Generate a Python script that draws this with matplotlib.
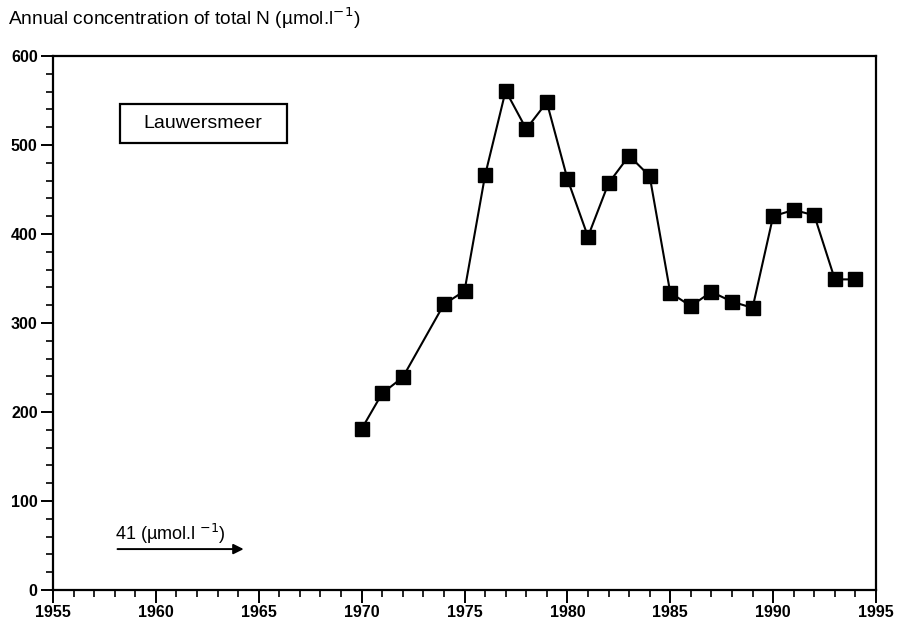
import numpy as np
import matplotlib
matplotlib.use("Agg")
import matplotlib.pyplot as plt
from matplotlib.ticker import MultipleLocator
from matplotlib.patches import Rectangle

# yearly total N concentration, Lauwersmeer (1973 missing)
years = [1970, 1971, 1972, 1974, 1975, 1976, 1977, 1978, 1979, 1980,
         1981, 1982, 1983, 1984, 1985, 1986, 1987, 1988, 1989, 1990,
         1991, 1992, 1993, 1994]
total_n = [181, 221, 239, 321, 336, 466, 561, 518, 548, 462,
           397, 457, 488, 465, 334, 319, 335, 324, 317, 420,
           427, 421, 349, 349]
x_ticks = [1955, 1960, 1965, 1970, 1975, 1980, 1985, 1990, 1995]
y_ticks = [0, 100, 200, 300, 400, 500, 600]

plt.rcParams['font.family'] = ['Liberation Sans', 'DejaVu Sans']

fig = plt.figure(figsize=(8.97, 6.22), dpi=100)
ax = fig.add_axes([0.0591, 0.0514, 0.9175, 0.8586])

ax.plot(years, total_n, color='black', lw=1.5, marker='s', ms=10,
        mfc='black', mec='black')

ax.set_xlim(1955, 1995)
ax.set_ylim(0, 600)
ax.set_xticks(x_ticks)
ax.set_yticks(y_ticks)
ax.xaxis.set_minor_locator(MultipleLocator(1))
ax.yaxis.set_minor_locator(MultipleLocator(20))
ax.tick_params(which='major', length=9, width=1.4, labelsize=11.5, direction='out')
ax.tick_params(which='minor', length=5, width=1.2, direction='out')
ax.tick_params(axis='x', pad=2)
ax.tick_params(axis='y', pad=2)
for lab in ax.get_xticklabels() + ax.get_yticklabels():
    lab.set_fontweight('bold')
for s in ax.spines.values():
    s.set_linewidth(1.6)

fig.text(0.009, 0.970, 'Annual concentration of total N (µmol.l$^{-1}$)',
         fontsize=13.8, va='center', ha='left')

# label box
ax.add_patch(Rectangle((1958.26, 502), 8.1, 44, fill=False, ec='black', lw=1.6))
ax.text(1962.3, 524, 'Lauwersmeer', fontsize=14, ha='center', va='center')

ax.annotate('', xy=(1964.4, 46), xytext=(1958.0, 46),
            arrowprops=dict(arrowstyle='-|>', color='black', lw=1.4,
                            mutation_scale=15))
ax.text(1958.0, 50, '41 (µmol.l $^{-1}$)', fontsize=13, ha='left', va='bottom')

fig.savefig('out.png', dpi=100)
